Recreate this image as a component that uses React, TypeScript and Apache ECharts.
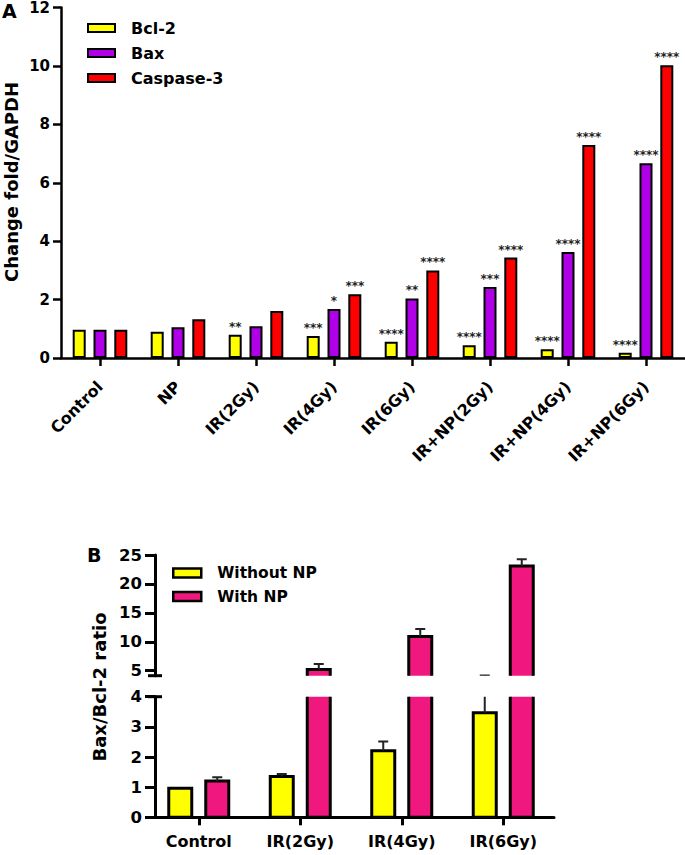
import React, { useEffect, useRef } from "react";
import * as echarts from "echarts";

// ---------- Panel A data ----------
const categoriesA = ["Control", "NP", "IR(2Gy)", "IR(4Gy)", "IR(6Gy)", "IR+NP(2Gy)", "IR+NP(4Gy)", "IR+NP(6Gy)"];
const bcl2 = [0.97, 0.9, 0.8, 0.75, 0.56, 0.44, 0.3, 0.18];
const bax = [0.97, 1.05, 1.09, 1.68, 2.04, 2.43, 3.63, 6.67];
const caspase3 = [0.97, 1.33, 1.61, 2.18, 3.0, 3.44, 7.29, 10.02];
const bcl2Stars = ["", "", "**", "***", "****", "****", "****", "****"];
const baxStars = ["", "", "", "*", "**", "***", "****", "****"];
const caspase3Stars = ["", "", "", "***", "****", "****", "****", "****"];

// ---------- Panel B data ----------
const categoriesB = ["Control", "IR(2Gy)", "IR(4Gy)", "IR(6Gy)"];
const withoutNP = [0.96, 1.35, 2.21, 3.47];
const withoutNPErr = [0, 0.09, 0.3, 0.72];
const withNP = [1.2, 5.2, 10.9, 23.1];
const withNPErr = [0.13, 0.95, 1.33, 1.15];
const lowerTicksB = [0, 1, 2, 3, 4];
const upperTicksB = [5, 10, 15, 20, 25];
const lowerMaxB = 4;
const upperMinB = 4.14;
const upperMaxB = 25;

const FONT = "DejaVu Sans";
const GRID_B_LEFT = 148;
const Y_OFFSET_B = -7;
const BW_B = 23;
const GAP_B = 14;

export default function App() {
  const ref = useRef<HTMLDivElement>(null);

  useEffect(() => {
    const chart = echarts.init(ref.current!, null, { renderer: "svg" });

    const starLabel = (stars: string[]) => ({
      show: true,
      position: "top",
      distance: 2,
      formatter: (p: any) => stars[p.dataIndex],
      fontFamily: FONT,
      fontSize: 12,
      fontWeight: "bold",
      color: "#222",
      textBorderWidth: 0,
    });

    const barA = (name: string, data: number[], color: string, stars: string[]) => ({
      name,
      type: "bar",
      xAxisIndex: 0,
      yAxisIndex: 0,
      data,
      barWidth: 13,
      barGap: "60%",
      itemStyle: { color, borderColor: "#000", borderWidth: 2 },
      label: starLabel(stars),
    });

    const segB = (name: string, values: number[], errs: number[], color: string, sign: number, idx: number) => ({
      name,
      type: "custom",
      xAxisIndex: idx,
      yAxisIndex: idx,
      clip: true,
      itemStyle: { color, borderColor: "#000", borderWidth: 3 },
      data: values.map((v, i) => [i, v, errs[i]]),
      encode: { x: 0, y: 1 },
      renderItem: (params: any, api: any) => {
        const i = api.value(0);
        const v = api.value(1);
        const e = api.value(2);
        const cs = params.coordSys;
        const base = api.coord([i, 0]);
        const top = api.coord([i, v]);
        const xc = base[0] + (sign * (BW_B + GAP_B)) / 2;
        const yMin = cs.y;
        const yMax = cs.y + cs.height;
        let y0 = top[1];
        let y1 = base[1];
        const children: any[] = [];
        if (y0 < yMax && y1 > yMin) {
          if (y0 < yMin) y0 = yMin - 6;
          if (y1 > yMax) y1 = yMax + 6;
          children.push({
            type: "rect",
            shape: { x: xc - BW_B / 2, y: y0, width: BW_B, height: y1 - y0 },
            style: { fill: color, stroke: "#000", lineWidth: 3 },
          });
        }
        if (e > 0) {
          const yc = api.coord([i, v + e])[1];
          children.push({
            type: "line",
            shape: { x1: xc, y1: top[1], x2: xc, y2: yc },
            style: { stroke: "#222", lineWidth: 2 },
          });
          children.push({
            type: "line",
            shape: { x1: xc - 5, y1: yc, x2: xc + 5, y2: yc },
            style: { stroke: "#222", lineWidth: 2 },
          });
        }
        return { type: "group", children };
      },
    });

    const axisLineStyle = (w: number) => ({ show: true, lineStyle: { color: "#000", width: w } });
    const boldLabel = (size: number, extra: any = {}) => ({
      color: "#000",
      fontFamily: FONT,
      fontWeight: "bold",
      fontSize: size,
      ...extra,
    });

    chart.setOption({
      animation: false,
      textStyle: { fontFamily: FONT },
      grid: [
        { left: 61, top: 6, width: 624, height: 352 },
        { left: GRID_B_LEFT, top: 555, width: 406, height: 120.7 },
        { left: GRID_B_LEFT, top: 696.7, width: 406, height: 120.6 },
      ],
      legend: [
        {
          data: ["Bcl-2", "Bax", "Caspase-3"],
          orient: "vertical",
          left: 87,
          top: 20,
          padding: 0,
          itemWidth: 27,
          itemHeight: 8,
          itemGap: 9,
          icon: "rect",
          selectedMode: false,
          itemStyle: { borderColor: "#000", borderWidth: 2 },
          textStyle: { fontSize: 16, fontWeight: "bold", fontFamily: FONT, color: "#000", lineHeight: 16, padding: [0, 0, 0, 11] },
        },
        {
          data: ["Without NP", "With NP"],
          orient: "vertical",
          left: 172,
          top: 565,
          padding: 0,
          itemWidth: 28,
          itemHeight: 9,
          itemGap: 7.5,
          icon: "rect",
          selectedMode: false,
          itemStyle: { borderColor: "#000", borderWidth: 2.5 },
          textStyle: { fontSize: 15.5, fontWeight: "bold", fontFamily: FONT, color: "#000", lineHeight: 16, padding: [0, 0, 0, 11] },
        },
      ],
      xAxis: [
        {
          gridIndex: 0,
          type: "category",
          data: categoriesA,
          axisLine: axisLineStyle(2.5),
          axisTick: { show: true, alignWithLabel: true, length: 8, lineStyle: { color: "#000", width: 2.5 } },
          axisLabel: boldLabel(16, { rotate: 45, margin: 26, interval: 0 }),
        },
        {
          gridIndex: 1,
          type: "category",
          data: categoriesB,
          show: false,
        },
        {
          gridIndex: 2,
          type: "category",
          data: categoriesB,
          axisLine: axisLineStyle(3),
          axisTick: { show: true, alignWithLabel: true, length: 8, lineStyle: { color: "#000", width: 3 } },
          axisLabel: boldLabel(16, { margin: 16, interval: 0 }),
        },
      ],
      yAxis: [
        {
          gridIndex: 0,
          type: "value",
          min: 0,
          max: 12,
          interval: 2,
          axisLine: axisLineStyle(2.5),
          axisTick: { show: true, length: 8, lineStyle: { color: "#000", width: 2.5 } },
          axisLabel: boldLabel(15, { margin: 11 }),
          splitLine: { show: false },
        },
        {
          gridIndex: 1,
          type: "value",
          min: upperMinB,
          max: upperMaxB,
          offset: Y_OFFSET_B,
          axisLine: axisLineStyle(3),
          axisTick: { show: true, length: 10, customValues: upperTicksB, lineStyle: { color: "#000", width: 3 } },
          axisLabel: boldLabel(16.5, { margin: 13, customValues: upperTicksB }),
          splitLine: { show: false },
        },
        {
          gridIndex: 2,
          type: "value",
          min: 0,
          max: lowerMaxB,
          offset: Y_OFFSET_B,
          axisLine: axisLineStyle(3),
          axisTick: { show: true, length: 10, customValues: lowerTicksB, lineStyle: { color: "#000", width: 3 } },
          axisLabel: boldLabel(16.5, { margin: 13, customValues: lowerTicksB }),
          splitLine: { show: false },
        },
      ],
      series: [
        barA("Bcl-2", bcl2, "#FFFF00", bcl2Stars),
        barA("Bax", bax, "#B000E8", baxStars),
        barA("Caspase-3", caspase3, "#FF0000", caspase3Stars),
        segB("Without NP", withoutNP, withoutNPErr, "#FFFF00", -1, 1),
        segB("With NP", withNP, withNPErr, "#F0187F", 1, 1),
        segB("Without NP", withoutNP, withoutNPErr, "#FFFF00", -1, 2),
        segB("With NP", withNP, withNPErr, "#F0187F", 1, 2),
      ],
    });

    const axisXB = GRID_B_LEFT - Y_OFFSET_B;
    const yUpperBreak = chart.convertToPixel({ yAxisIndex: 1 } as any, upperMinB) as number;
    const yLowerBreak = chart.convertToPixel({ yAxisIndex: 2 } as any, lowerMaxB) as number;

    const titleText = (text: string, x: number, y: number, size: number, rotation = 0, align = "center", vAlign = "middle") => ({
      type: "text",
      x,
      y,
      rotation,
      style: { text, fill: "#000", fontFamily: FONT, fontWeight: "bold", fontSize: size, align, verticalAlign: vAlign },
    });

    chart.setOption({
      graphic: [
        titleText("A", 2, 1, 19, 0, "left", "top"),
        titleText("Change fold/GAPDH", 11, 182, 18, Math.PI / 2),
        titleText("B", 87, 545, 19, 0, "left", "top"),
        titleText("Bax/Bcl-2 ratio", 99.5, 687, 18, Math.PI / 2),
        {
          type: "line",
          shape: { x1: axisXB - 7, y1: yUpperBreak, x2: axisXB + 7, y2: yUpperBreak },
          style: { stroke: "#000", lineWidth: 3 },
        },
        {
          type: "line",
          shape: { x1: axisXB - 7, y1: yLowerBreak, x2: axisXB + 7, y2: yLowerBreak },
          style: { stroke: "#000", lineWidth: 3 },
        },
      ],
    });

    return () => chart.dispose();
  }, []);

  return <div ref={ref} style={{ position: "absolute", left: 0, top: 0, width: 685, height: 855 }} />;
}
